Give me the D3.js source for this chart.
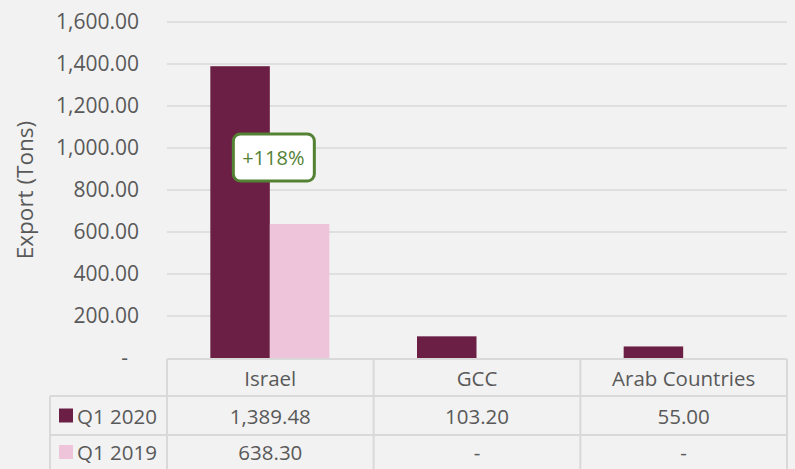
<!DOCTYPE html>
<html><head><meta charset="utf-8">
<script src="https://cdn.jsdelivr.net/npm/d3@7"></script>
<style>html,body{margin:0;padding:0;background:#F2F2F2;}svg{display:block;font-family:"Open Sans",sans-serif;}</style>
</head><body>
<script>
const categories = ["Israel", "GCC", "Arab Countries"];
const seriesNames = ["Q1 2020", "Q1 2019"];
const q1_2020 = [1389.48, 103.20, 55.00];
const q1_2019 = [638.30, 0, 0];
const tableQ1_2020 = ["1,389.48", "103.20", "55.00"];
const tableQ1_2019 = ["638.30", "-", "-"];
const yTicks = [0, 200, 400, 600, 800, 1000, 1200, 1400, 1600];
const annotation = "+118%";
const colors = ["#6B1F45", "#EEC4DB"];

(function () {
const W = 795, H = 469;
const mLeft = 167, mRight = 787, mTop = 22, mBottom = 358;
const svg = d3.select("body").append("svg").attr("width", W).attr("height", H);
svg.append("rect").attr("width", W).attr("height", H).attr("fill", "#F2F2F2");

const x = d3.scaleBand().domain(categories).range([mLeft, mRight]);
const x1 = d3.scaleBand().domain(seriesNames).range([0, 119]);
const y = d3.scaleLinear().domain([0, 1600]).range([mBottom, mTop]);

svg.append("g").selectAll("line").data(yTicks.filter(d => d > 0)).join("line")
  .attr("x1", mLeft).attr("x2", mRight).attr("y1", d => y(d)).attr("y2", d => y(d))
  .attr("stroke", "#D9D9D9").attr("stroke-width", 1.5);

const fmt = d => d === 0 ? "-" : d3.format(",.2f")(d);
svg.append("g").selectAll("text").data(yTicks).join("text")
  .attr("x", d => d === 0 ? 128 : 139).attr("y", d => y(d))
  .attr("dy", "0.35em").attr("text-anchor", "end")
  .attr("font-size", 21).attr("fill", "#595959").text(fmt);

svg.append("text").attr("transform", `translate(33,${190}) rotate(-90)`)
  .attr("text-anchor", "middle").attr("font-size", 22.5).attr("fill", "#595959").text("Export (Tons)");

const series = [q1_2020, q1_2019];
series.forEach((vals, si) => {
  svg.append("g").selectAll("rect").data(vals.map((v, i) => ({ v, c: categories[i] }))).join("rect")
    .attr("x", d => x(d.c) + x.bandwidth() / 2 - 60 + x1(seriesNames[si]))
    .attr("width", x1.bandwidth())
    .attr("y", d => y(d.v)).attr("height", d => mBottom - y(d.v))
    .attr("fill", colors[si]);
});

const ax = x("Israel") + x.bandwidth() / 2 + 3, ay = y(1000) + 10;
svg.append("rect").attr("x", ax - 40).attr("y", ay - 24).attr("width", 81).attr("height", 47)
  .attr("rx", 7).attr("fill", "#fff").attr("stroke", "#548235").attr("stroke-width", 3);
svg.append("text").attr("x", ax).attr("y", ay).attr("dy", "0.35em").attr("text-anchor", "middle")
  .attr("font-size", 20).attr("fill", "#548235").text(annotation);

const rowY = [359, 396, 435, 469];
const lc = "#D9D9D9";
const tg = svg.append("g").attr("stroke", lc).attr("stroke-width", 2);
tg.append("line").attr("x1", mLeft).attr("x2", mRight).attr("y1", rowY[0]).attr("y2", rowY[0]);
tg.append("line").attr("x1", 50).attr("x2", mRight).attr("y1", rowY[1]).attr("y2", rowY[1]);
tg.append("line").attr("x1", 50).attr("x2", mRight).attr("y1", rowY[2]).attr("y2", rowY[2]);
tg.append("line").attr("x1", 50).attr("x2", 50).attr("y1", rowY[1]).attr("y2", H);
[mLeft, ...categories.map(c => x(c) + x.bandwidth())].forEach(xx =>
  tg.append("line").attr("x1", xx).attr("x2", xx).attr("y1", rowY[0]).attr("y2", H));

const rows = [categories, tableQ1_2020, tableQ1_2019];
rows.forEach((r, ri) => {
  svg.append("g").selectAll("text").data(r).join("text")
    .attr("x", (d, i) => x(categories[i]) + x.bandwidth() / 2)
    .attr("y", (rowY[ri] + rowY[ri + 1]) / 2 + 1).attr("dy", "0.35em")
    .attr("text-anchor", "middle").attr("font-size", 20.5).attr("fill", "#595959").text(d => d);
});
seriesNames.forEach((s, i) => {
  const cy = (rowY[i + 1] + rowY[i + 2]) / 2;
  svg.append("rect").attr("x", 59).attr("y", cy - 7).attr("width", 14).attr("height", 14).attr("fill", colors[i]);
  svg.append("text").attr("x", 77).attr("y", cy + 1).attr("dy", "0.35em")
    .attr("font-size", 20.5).attr("fill", "#595959").text(s);
});
})();
</script>
</body></html>
